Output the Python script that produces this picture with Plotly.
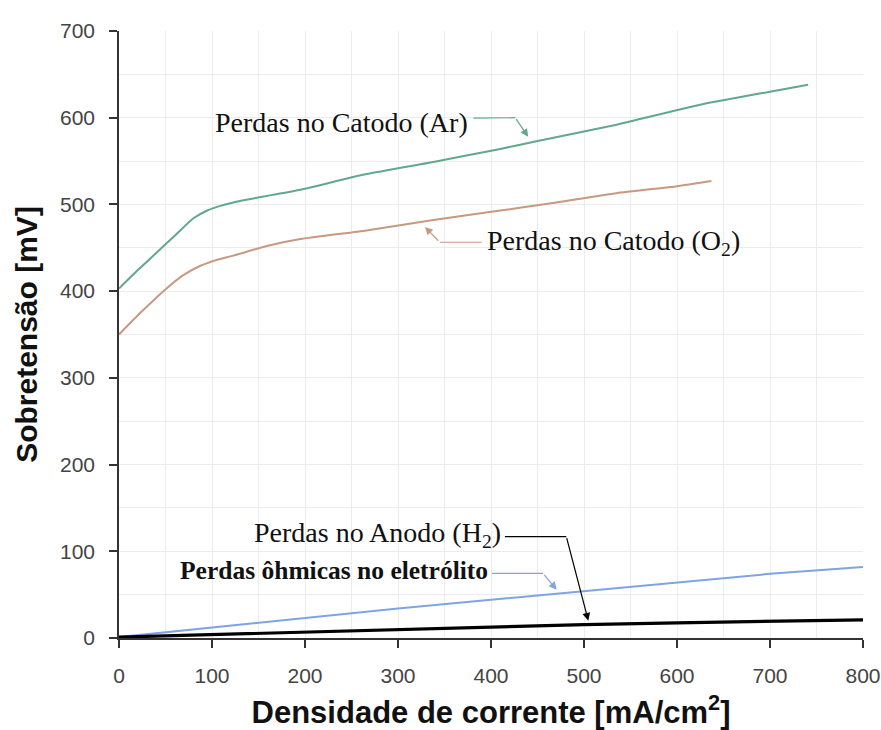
import plotly.graph_objects as go

# Densidade de corrente (mA/cm²) e sobretensões (mV) de cada contribuição
j_ar = [0, 20, 40, 60, 80, 95, 108, 122, 140, 165, 195, 266, 338, 410, 445, 535, 625, 700, 741]
v_ar = [403, 424, 444, 464, 484, 493, 498, 502, 506, 511, 517, 535, 549, 564, 572, 592, 615, 630, 638]

j_o2 = [0, 23, 52, 70, 87, 105, 123, 159, 195, 266, 338, 410, 463, 535, 600, 637]
v_o2 = [350, 375, 404, 419, 429, 436, 441, 452, 460, 470, 482, 493, 501, 513, 521, 527]

j_ohm = [0, 100, 200, 300, 400, 500, 600, 700, 800]
v_ohm = [1, 12, 23, 34, 44, 54, 64, 74, 82]

j_an = [0, 50, 100, 200, 300, 400, 500, 600, 700, 800]
v_an = [1, 2.5, 4, 7, 10, 13, 15.5, 17.5, 19.5, 21]

x_ticks = [0, 100, 200, 300, 400, 500, 600, 700, 800]
y_ticks = [0, 100, 200, 300, 400, 500, 600, 700]

C_AR = "#62a88a"
C_O2 = "#c79a80"
C_OHM = "#7fa3e3"
C_AN = "#000000"

SERIF = "Liberation Serif"
SANS = "Liberation Sans"

fig = go.Figure()
fig.add_trace(go.Scatter(x=j_ar, y=v_ar, mode="lines", line=dict(color=C_AR, width=2, shape="spline", smoothing=0.5),
                         name="Perdas no Catodo (Ar)"))
fig.add_trace(go.Scatter(x=j_o2, y=v_o2, mode="lines", line=dict(color=C_O2, width=2, shape="spline", smoothing=0.5),
                         name="Perdas no Catodo (O2)"))
fig.add_trace(go.Scatter(x=j_ohm, y=v_ohm, mode="lines", line=dict(color=C_OHM, width=2),
                         name="Perdas ôhmicas no eletrólito"))
fig.add_trace(go.Scatter(x=j_an, y=v_an, mode="lines", line=dict(color=C_AN, width=3.2),
                         name="Perdas no Anodo (H2)"))

# Rótulos com linha de chamada: (texto, âncora, posição do texto, trecho reto, ponta, cor, negrito)
labels = [
    ("Perdas no Catodo (Ar)", "right", (377, 595), [(381, 599.5), (426, 600)], (440, 578), C_AR, False),
    ("Perdas no Catodo (O<sub>2</sub>)", "left", (394, 456), [(390, 456.4), (345, 456.4)], (329, 474), C_O2, False),
    ("Perdas no Anodo (H<sub>2</sub>)", "right", (413, 119), [(415, 117), (481, 117)], (504.6, 20), C_AN, False),
    ("Perdas ôhmicas no eletrólito", "right", (399, 78), [(401, 74.6), (456, 74.6)], (470.6, 55.5), C_OHM, True),
]

for text, anchor, (tx, ty), seg, tip, color, bold in labels:
    fig.add_annotation(x=tx, y=ty, xref="x", yref="y", text=text, showarrow=False,
                       xanchor=anchor, yanchor="middle",
                       font=dict(family=SERIF, size=25.5 if bold else 28, color="#111",
                                 weight="bold" if bold else "normal"))
    (x0, y0), (x1, y1) = seg
    fig.add_shape(type="line", xref="x", yref="y", x0=x0, y0=y0, x1=x1, y1=y1,
                  line=dict(color=color, width=1.2))
    fig.add_annotation(x=tip[0], y=tip[1], ax=x1, ay=y1, xref="x", yref="y",
                       axref="x", ayref="y", text="", showarrow=True,
                       arrowhead=2, arrowsize=1.3, arrowwidth=1.2, arrowcolor=color,
                       standoff=0, startstandoff=0)

grid = "#ececec"
axis_common = dict(
    showline=True, linecolor="#333", linewidth=1.5,
    ticks="outside", ticklen=8, tickwidth=1.5, tickcolor="#333",
    showgrid=True, gridcolor=grid, gridwidth=1, zeroline=False,
    tickfont=dict(family=SANS, size=21, color="#444"),
    automargin=False,
)

fig.update_xaxes(
    range=[0, 800], tickvals=x_ticks, ticklabelstandoff=10,
    minor=dict(dtick=50, showgrid=True, gridcolor=grid, ticks=""),
    title=dict(text="Densidade de corrente [mA/cm<sup>2</sup>]", standoff=16,
               font=dict(family=SANS, size=31, color="#111", weight="bold")),
    **axis_common,
)
fig.update_yaxes(
    range=[0, 700], tickvals=y_ticks, ticklabelstandoff=10,
    minor=dict(dtick=50, showgrid=True, gridcolor=grid, ticks=""),
    title=dict(text="Sobretensão [mV]", standoff=14,
               font=dict(family=SANS, size=30, color="#111", weight="bold")),
    **axis_common,
)

fig.update_layout(
    width=881, height=730,
    margin=dict(l=119, r=18, t=31, b=92),
    plot_bgcolor="white", paper_bgcolor="white",
    showlegend=False,
)

fig.write_html("out.html")
